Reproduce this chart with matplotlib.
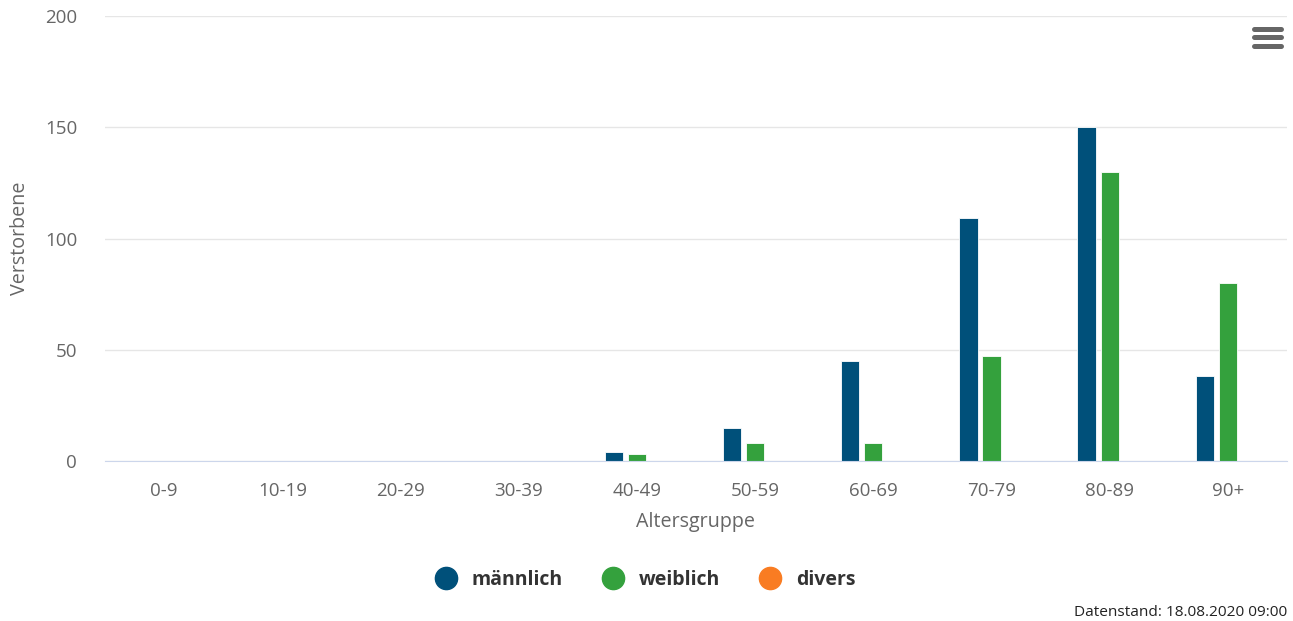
import numpy as np
import matplotlib
matplotlib.use("Agg")
import matplotlib.pyplot as plt
from matplotlib.lines import Line2D

plt.rcParams['font.family'] = ['Open Sans', 'DejaVu Sans']

# data
groups = ['0-9', '10-19', '20-29', '30-39', '40-49', '50-59', '60-69', '70-79', '80-89', '90+']
maennlich = [0, 0, 0, 0, 4, 15, 45, 109, 150, 38]
weiblich = [0, 0, 0, 0, 3, 8, 8, 47, 130, 80]
divers = [0, 0, 0, 0, 0, 0, 0, 0, 0, 0]
yticks = [0, 50, 100, 150, 200]

c_m = '#00507a'
c_w = '#34a13d'
c_d = '#f97c22'

fig = plt.figure(figsize=(12.93, 6.21), dpi=100)
ax = fig.add_axes([105/1293, 1 - 461/621, (1287 - 105)/1293, (461 - 16)/621])

x = np.arange(len(groups))
w = 0.155
off = 0.195
# three series per group, divers (all zero) sits on the right
ax.bar(x - off, maennlich, w, color=c_m, edgecolor='white', linewidth=0.6, zorder=3)
ax.bar(x, weiblich, w, color=c_w, edgecolor='white', linewidth=0.6, zorder=3)
ax.bar(x + off, divers, w, color=c_d, linewidth=0, zorder=3)

ax.set_xlim(-0.5, len(groups) - 0.5)
ax.set_ylim(0, 200)
ax.set_yticks(yticks)
ax.set_xticks(x)
ax.set_xticklabels(groups)
ax.grid(axis='y', color='#e6e6e6', linewidth=1, zorder=0)
ax.tick_params(axis='both', length=0, labelsize=13.5, labelcolor='#666666')
ax.tick_params(axis='x', pad=15)
ax.tick_params(axis='y', pad=20)
for s in ['top', 'right', 'left']:
    ax.spines[s].set_visible(False)
ax.spines['bottom'].set_color('#ccd6eb')
ax.spines['bottom'].set_zorder(4)

ax.set_xlabel('Altersgruppe', fontsize=14.2, color='#666666', labelpad=9)
fig.text(20/1293, 1 - 238/621, 'Verstorbene', rotation=90, fontsize=14.2,
         color='#666666', ha='center', va='center')

# legend
handles = [Line2D([], [], marker='o', linestyle='', markersize=16, color=c)
           for c in (c_m, c_w, c_d)]
leg = fig.legend(handles, ['männlich', 'weiblich', 'divers'], loc='center',
                 bbox_to_anchor=(641/1293, 1 - 580/621), ncol=3, frameon=False,
                 handletextpad=0.3, columnspacing=1.6,
                 prop={'weight': 'bold', 'size': 14})
for t in leg.get_texts():
    t.set_color('#333333')

fig.text(1287/1293, 1 - 612/621, 'Datenstand: 18.08.2020 09:00', fontsize=11.1,
         color='#222222', ha='right', va='center')

# menu icon
for yy in (28.5, 37.3, 46):
    fig.add_artist(Line2D([1254/1293, 1281/1293], [1 - yy/621, 1 - yy/621],
                          color='#666666', linewidth=3.6, solid_capstyle='round'))

fig.savefig('out.png', dpi=100)
